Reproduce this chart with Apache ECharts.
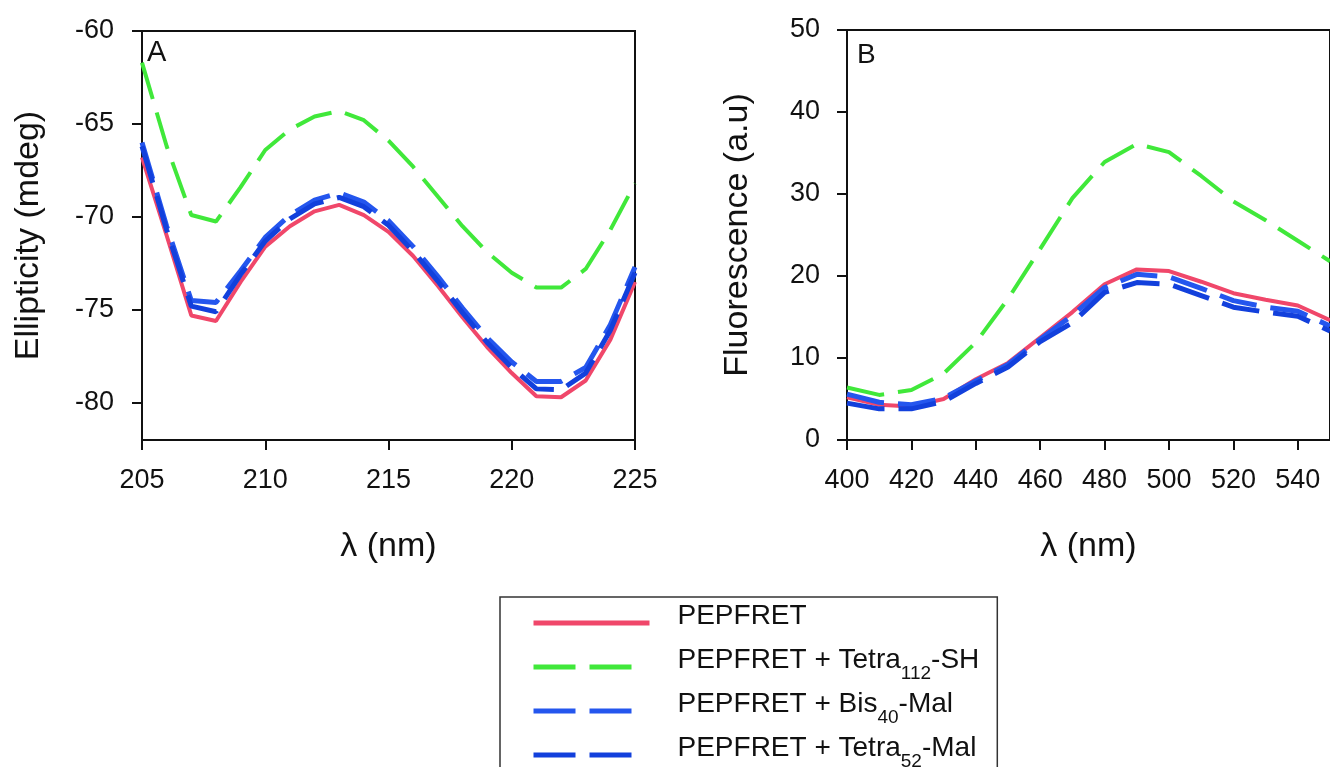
<!DOCTYPE html>
<html>
<head>
<meta charset="utf-8">
<title>CD / fluorescence</title>
<script src="https://cdn.jsdelivr.net/npm/echarts@6/dist/echarts.min.js"></script>
<style>
    html, body { margin: 0; padding: 0; background: #fff; }
    #chart { width: 1330px; height: 767px; }
</style>
</head>
<body>
<div id="chart"></div>
<script>
// ---- data ----
// panel A : CD spectra, 205-225 nm
var lambdaA = [205, 206, 207, 208, 209, 210, 211, 212, 213, 214, 215, 216, 217, 218, 219, 220, 221, 222, 223, 224, 225];
var pepA = [-66.8, -71.0, -75.3, -75.6, -73.5, -71.6, -70.5, -69.7, -69.35, -69.9, -70.8, -72.1, -73.7, -75.4, -77.0, -78.4, -79.65, -79.7, -78.8, -76.6, -73.5];
var tetra112A = [-61.7, -66.2, -69.9, -70.25, -68.4, -66.4, -65.3, -64.6, -64.3, -64.8, -65.9, -67.3, -68.9, -70.5, -71.9, -73.0, -73.8, -73.8, -72.8, -70.7, -68.2];
var bis40A = [-66.0, -70.5, -74.5, -74.6, -72.9, -71.1, -69.9, -69.1, -68.7, -69.2, -70.2, -71.6, -73.2, -74.9, -76.5, -77.8, -78.85, -78.85, -78.1, -75.8, -72.7];
var tetra52A = [-66.2, -70.7, -74.8, -75.1, -73.1, -71.3, -70.1, -69.3, -68.95, -69.45, -70.45, -71.85, -73.45, -75.15, -76.75, -78.1, -79.25, -79.3, -78.4, -76.1, -73.0];

// panel B : fluorescence, 400-550 nm
var lambdaB = [400, 410, 420, 430, 440, 450, 460, 470, 480, 490, 500, 510, 520, 530, 540, 550];
var pepB = [5.2, 4.3, 4.1, 5.0, 7.4, 9.4, 12.5, 15.6, 19.0, 20.8, 20.6, 19.3, 17.9, 17.1, 16.4, 14.6];
var tetra112B = [6.4, 5.5, 6.1, 8.1, 11.9, 17.2, 23.3, 29.5, 33.9, 36.1, 35.1, 32.2, 29.1, 26.8, 24.3, 21.8];
var bis40B = [5.6, 4.6, 4.3, 5.1, 7.2, 9.2, 12.3, 15.2, 18.6, 20.2, 19.9, 18.5, 17.0, 16.2, 15.7, 13.9];
var tetra52B = [4.5, 3.8, 3.8, 4.7, 6.9, 8.9, 12.0, 14.3, 18.0, 19.2, 19.0, 17.6, 16.2, 15.6, 15.1, 13.3];

// tick labels
var xTicksA = [205, 210, 215, 220, 225];
var yTicksA = [-80, -75, -70, -65, -60];
var xTicksB = [400, 420, 440, 460, 480, 500, 520, 540];
var yTicksB = [0, 10, 20, 30, 40, 50];

var seriesNames = ['PEPFRET', 'PEPFRET + Tetra112-SH', 'PEPFRET + Bis40-Mal', 'PEPFRET + Tetra52-Mal'];
// legend text with subscripts
var legendText = {
    'PEPFRET': 'PEPFRET',
    'PEPFRET + Tetra112-SH': 'PEPFRET + Tetra{s|112}-SH',
    'PEPFRET + Bis40-Mal': 'PEPFRET + Bis{s|40}-Mal',
    'PEPFRET + Tetra52-Mal': 'PEPFRET + Tetra{s|52}-Mal'
};

var FONT = '"Liberation Sans", Arial, sans-serif';
var INK = '#111';

function pairs(xs, ys) {
    var out = [];
    for (var i = 0; i < xs.length; i++) {
        out.push([xs[i], ys[i]]);
    }
    return out;
}

// common look of the axes
function makeAxis(grid, min, max, ticks, name, gap, margin) {
    return {
        type: 'value',
        gridIndex: grid,
        min: min,
        max: max,
        name: name,
        nameLocation: 'middle',
        nameGap: gap,
        nameTextStyle: {fontSize: 34, fontFamily: FONT, color: INK},
        axisLine: {show: true, onZero: false, lineStyle: {color: INK, width: 2}},
        axisTick: {show: true, inside: false, length: 10, customValues: ticks, lineStyle: {color: INK, width: 2}},
        axisLabel: {fontSize: 27, fontFamily: FONT, color: INK, margin: margin, customValues: ticks},
        splitLine: {show: false}
    };
}

function makeLine(name, grid, data, color, width, dash, z) {
    return {
        name: name,
        type: 'line',
        xAxisIndex: grid,
        yAxisIndex: grid,
        data: data,
        symbol: 'none',
        z: z,
        lineStyle: {color: color, width: width, type: dash},
        itemStyle: {color: color}
    };
}

var RED = '#f0476a';
var GREEN = '#40e83a';
var BLUE1 = '#2456ee';
var BLUE2 = '#1240dc';
var DASH = [38, 14];
var LEG_DASH = [42, 14, 42, 40];

var myChart = echarts.init(document.getElementById('chart'));

var option = {
    animation: false,
    backgroundColor: '#fff',
    title: [
        {text: 'A', left: 147, top: 38, padding: 0, textStyle: {fontSize: 29, fontWeight: 'normal', fontFamily: FONT, color: INK}},
        {text: 'B', left: 857, top: 41, padding: 0, textStyle: {fontSize: 28, fontWeight: 'normal', fontFamily: FONT, color: INK}}
    ],
    grid: [
        {left: 142, top: 31, width: 493, height: 409, show: true, borderColor: INK, borderWidth: 2},
        {left: 847, top: 30, width: 494, height: 410, show: true, borderColor: INK, borderWidth: 2}
    ],
    xAxis: [
        makeAxis(0, 205, 225, xTicksA, 'λ (nm)', 90, 27),
        makeAxis(1, 400, 550, xTicksB, 'λ (nm)', 90, 27)
    ],
    yAxis: [
        makeAxis(0, -82, -60, yTicksA, 'Ellipticity (mdeg)', 96, 28),
        makeAxis(1, 0, 50, yTicksB, 'Fluorescence (a.u)', 92, 27)
    ],
    legend: {
        orient: 'vertical',
        left: 500,
        top: 597,
        height: 220,
        padding: [4, 18, 20, 31],
        itemWidth: 116,
        itemHeight: 14,
        itemGap: 0,
        borderColor: '#333',
        borderWidth: 1.5,
        selectedMode: false,
        itemStyle: {opacity: 0},
        data: [
            {name: seriesNames[0], lineStyle: {width: 5}},
            {name: seriesNames[1], lineStyle: {width: 5, type: LEG_DASH}},
            {name: seriesNames[2], lineStyle: {width: 5, type: LEG_DASH}},
            {name: seriesNames[3], lineStyle: {width: 5, type: LEG_DASH}}
        ],
        formatter: function (name) {
            return legendText[name];
        },
        textStyle: {
            fontSize: 28,
            fontFamily: FONT,
            color: INK,
            lineHeight: 30,
            padding: [0, 0, 14, 23],
            rich: {
                s: {fontSize: 19, fontFamily: FONT, color: INK, padding: [28, 0, 0, 0]}
            }
        }
    },
    series: [
        // panel A
        makeLine(seriesNames[0], 0, pairs(lambdaA, pepA), RED, 4, 'solid', 2),
        makeLine(seriesNames[1], 0, pairs(lambdaA, tetra112A), GREEN, 4, DASH, 3),
        makeLine(seriesNames[2], 0, pairs(lambdaA, bis40A), BLUE1, 5, DASH, 4),
        makeLine(seriesNames[3], 0, pairs(lambdaA, tetra52A), BLUE2, 5, DASH, 5),
        // panel B
        makeLine(seriesNames[0], 1, pairs(lambdaB, pepB), RED, 4, 'solid', 2),
        makeLine(seriesNames[1], 1, pairs(lambdaB, tetra112B), GREEN, 4, DASH, 3),
        makeLine(seriesNames[2], 1, pairs(lambdaB, bis40B), BLUE1, 5, DASH, 4),
        makeLine(seriesNames[3], 1, pairs(lambdaB, tetra52B), BLUE2, 5, DASH, 5)
    ]
};

myChart.setOption(option);
</script>
</body>
</html>
